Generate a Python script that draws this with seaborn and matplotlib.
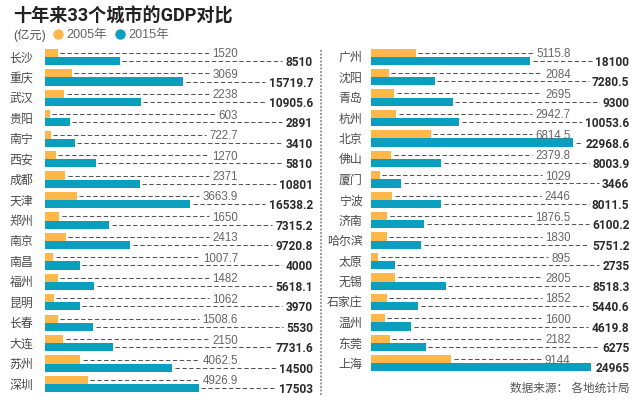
import matplotlib
matplotlib.use("Agg")
import matplotlib.pyplot as plt
import pandas as pd
import seaborn as sns
from matplotlib.lines import Line2D

sns.set_theme(style="white")
FONT = ['Liberation Sans', 'Noto Sans CJK SC']
BOLD = ['Roboto', 'Noto Sans CJK SC']
plt.rcParams['font.family'] = FONT

left_cities = ['长沙', '重庆', '武汉', '贵阳', '南宁', '西安', '成都', '天津', '郑州', '南京', '南昌', '福州', '昆明', '长春', '大连', '苏州', '深圳']
left_2005 = ['1520', '3069', '2238', '603', '722.7', '1270', '2371', '3663.9', '1650', '2413', '1007.7', '1482', '1062', '1508.6', '2150', '4062.5', '4926.9']
left_2015 = ['8510', '15719.7', '10905.6', '2891', '3410', '5810', '10801', '16538.2', '7315.2', '9720.8', '4000', '5618.1', '3970', '5530', '7731.6', '14500', '17503']
right_cities = ['广州', '沈阳', '青岛', '杭州', '北京', '佛山', '厦门', '宁波', '济南', '哈尔滨', '太原', '无锡', '石家庄', '温州', '东莞', '上海']
right_2005 = ['5115.8', '2084', '2695', '2942.7', '6814.5', '2379.8', '1029', '2446', '1876.5', '1830', '895', '2805', '1852', '1600', '2182', '9144']
right_2015 = ['18100', '7280.5', '9300', '10053.6', '22968.6', '8003.9', '3466', '8011.5', '6100.2', '5751.2', '2735', '8518.3', '5440.6', '4619.8', '6275', '24965']
years = ['2005年', '2015年']
ORANGE, TEAL = '#FDB74B', '#0A9FBF'
W, H = 643, 405
PITCH = 20.44
PX_PER_UNIT = 0.00882


def frame(cities, a, b):
    return pd.DataFrame({
        'city': cities * 2,
        'year': [years[0]] * len(cities) + [years[1]] * len(cities),
        'label': a + b,
        'gdp': [float(v) for v in a + b],
    })


fig = plt.figure(figsize=(W / 100, H / 100), dpi=100, facecolor='white')


def fx(x):
    return x / W


def fy(y):
    return 1 - y / H


def panel(cities, a, b, x0, x1, top_center, right_orange, right_teal, label_x):
    n = len(cities)
    top = top_center - PITCH / 2
    height = PITCH * n
    ax = fig.add_axes([fx(x0), fy(top + height), (x1 - x0) / W, height / H])
    df = frame(cities, a, b)
    sns.barplot(data=df, y='city', x='gdp', hue='year', hue_order=years,
                palette=[ORANGE, TEAL], orient='h', width=0.8, dodge=True,
                legend=False, ax=ax, linewidth=0, saturation=1)
    ax.set_xlim(0, (x1 - x0) / PX_PER_UNIT)
    ax.set_ylim(n - 0.5, -0.5)
    ax.set_xlabel('')
    ax.set_ylabel('')
    ax.set_xticks([])
    ax.tick_params(axis='y', length=0, pad=x0 - label_x)
    for t in ax.get_yticklabels():
        t.set_fontsize(8.6)
        t.set_color('#4a4a4a')
        t.set_family(FONT)
    ax.patch.set_alpha(0)
    sns.despine(ax=ax, left=True, bottom=True, top=True, right=True)

    renderer = fig.canvas.get_renderer()
    for container, labels, xr, bold, col in (
            (ax.containers[0], a, right_orange, False, '#666666'),
            (ax.containers[1], b, right_teal, True, '#2b2b2b')):
        for bar, lab in zip(container, labels):
            yc = bar.get_y() + bar.get_height() / 2
            txt = fig.text(fx(xr), 0, lab, ha='right', va='center_baseline',
                           fontsize=8.6 if bold else 8.3,
                           fontweight='bold' if bold else 'normal', color=col,
                           family=BOLD if bold else FONT)
            ypx = ax.transData.transform((0, yc))[1]
            txt.set_y(ypx / H)
            ext = txt.get_window_extent(renderer)
            xa = x0 + bar.get_width() * PX_PER_UNIT + 2.5
            xb = ext.x0 - 3.5
            if xb > xa:
                fig.add_artist(Line2D([fx(xa), fx(xb)], [ypx / H, ypx / H], transform=fig.transFigure,
                                      color='#555555', lw=0.75, dashes=(4.2, 2.4)))
    return ax


panel(left_cities, left_2005, left_2015, 44.5, 318, 57, 238, 313, 36.5)
panel(right_cities, right_2005, right_2015, 370.5, 640, 56.7, 570.7, 629.5, 364.7)

fig.text(fx(13), fy(16), '十年来33个城市的GDP对比', fontsize=13.05, fontweight='bold',
         color='#222222', va='center', ha='left', family=BOLD)
fig.text(fx(13), fy(35), '(亿元)', fontsize=8.8, color='#555555', va='center', ha='left', family=FONT)
handles = [Line2D([], [], ls='', marker='o', ms=6.5, color=c, label=y) for c, y in zip([ORANGE, TEAL], years)]
fig.legend(handles=handles, ncols=2, frameon=False, loc='center left', bbox_to_anchor=(fx(50), fy(35)),
           bbox_transform=fig.transFigure, borderpad=0, borderaxespad=0, handletextpad=0.0,
           columnspacing=0.35, handlelength=1.3, prop={'size': 9.1, 'family': FONT}, labelcolor='#666666')
fig.add_artist(Line2D([fx(320.5)] * 2, [fy(50), fy(395)], transform=fig.transFigure,
                      color='#9a9a9a', lw=1.4, dashes=(1.0, 0.8)))
fig.text(fx(630), fy(389), '数据来源： 各地统计局', fontsize=8.4, color='#555555', ha='right', va='center', family=FONT)

fig.savefig('out.png', dpi=100)
